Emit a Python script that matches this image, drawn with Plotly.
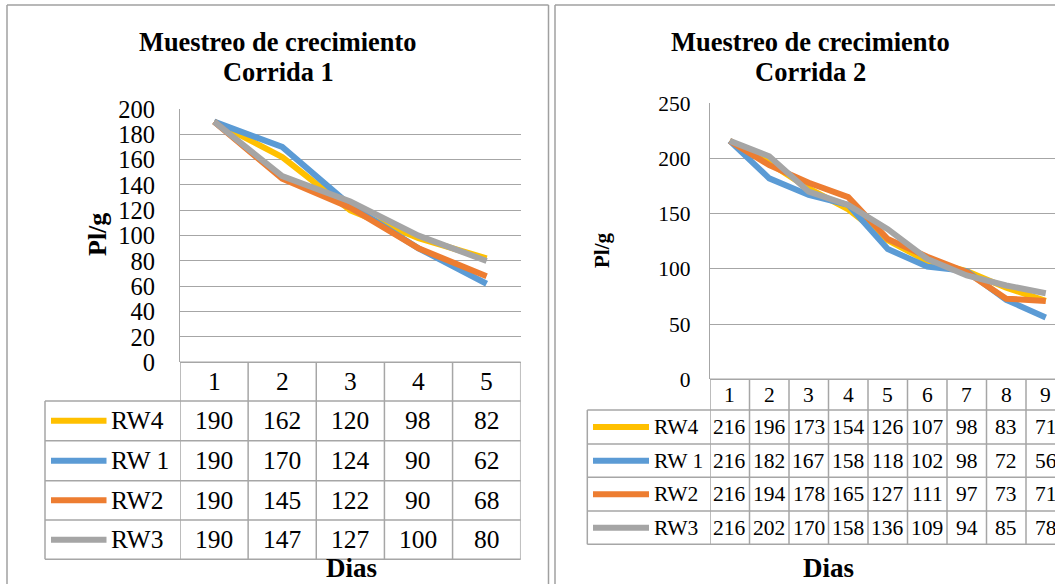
import plotly.graph_objects as go

# ---------------- data ----------------
series_names = ["RW4", "RW 1", "RW2", "RW3"]
series_colors = ["#FFC000", "#5B9BD5", "#ED7D31", "#A5A5A5"]

dias_c1 = [1, 2, 3, 4, 5]
rw4_c1 = [190, 162, 120, 98, 82]
rw1_c1 = [190, 170, 124, 90, 62]
rw2_c1 = [190, 145, 122, 90, 68]
rw3_c1 = [190, 147, 127, 100, 80]

dias_c2 = [1, 2, 3, 4, 5, 6, 7, 8, 9]
rw4_c2 = [216, 196, 173, 154, 126, 107, 98, 83, 71]
rw1_c2 = [216, 182, 167, 158, 118, 102, 98, 72, 56]
rw2_c2 = [216, 194, 178, 165, 127, 111, 97, 73, 71]
rw3_c2 = [216, 202, 170, 158, 136, 109, 94, 85, 78]

title_c1 = ["Muestreo de crecimiento", "Corrida 1"]
title_c2 = ["Muestreo de crecimiento", "Corrida 2"]
y_title = "Pl/g"
x_title = "Dias"

# ---------------- layout helpers ----------------
W, H = 1055, 584
FONT = "Liberation Serif, Times New Roman, serif"
GRID = "#A6A6A6"
FRAME = "#A0A0A0"


def fx(p):
    return p / W


def fy(p):
    return 1 - p / H


fig = go.Figure()

charts = [
    dict(x=dias_c1, ys=[rw4_c1, rw1_c1, rw2_c1, rw3_c1], xa="x", ya="y",
         plot_l=180, plot_r=520.7, plot_t=109, plot_b=362.3,
         rows=[401, 440.7, 480.7, 520, 559.3], leg_l=45,
         sw=(51, 106.5), lab_x=109, fs=25.5, tfs=26.4, title=title_c1,
         title_x=278, title_y=(42, 72), ytitle=(97, 235), ytfs=26,
         xtitle=(351, 568), xtfs=27),
    dict(x=dias_c2, ys=[rw4_c2, rw1_c2, rw2_c2, rw3_c2], xa="x2", ya="y2",
         plot_l=710, plot_r=1055, plot_t=103.3, plot_b=379.3,
         rows=[410, 444, 477.3, 511, 544.3], leg_l=587.3,
         sw=(593, 649), lab_x=652, fs=21.5, tfs=26.5, title=title_c2,
         title_x=810, title_y=(42, 72), ytitle=(602, 251), ytfs=21,
         xtitle=(828, 568), xtfs=27),
]

shapes = []
annotations = []

# outer frames of the two chart objects (open at the bottom / right, as cropped)
for x0, x1 in [(7, 548.5), (555, None)]:
    shapes.append(dict(type="line", xref="paper", yref="paper",
                       x0=fx(x0), x1=fx(x0), y0=0, y1=fy(5),
                       line=dict(color=FRAME, width=1.5)))
    shapes.append(dict(type="line", xref="paper", yref="paper",
                       x0=fx(x0), x1=fx(x1) if x1 else 1, y0=fy(5), y1=fy(5),
                       line=dict(color=FRAME, width=1.5)))
    if x1:
        shapes.append(dict(type="line", xref="paper", yref="paper",
                           x0=fx(x1), x1=fx(x1), y0=0, y1=fy(5),
                           line=dict(color=FRAME, width=1.5)))

for c in charts:
    # data lines
    for name, col, yv in zip(series_names, series_colors, c["ys"]):
        fig.add_trace(go.Scatter(x=c["x"], y=yv, mode="lines", name=name,
                                 xaxis=c["xa"], yaxis=c["ya"],
                                 line=dict(color=col, width=6),
                                 showlegend=False, hoverinfo="skip"))

    n = len(c["x"])
    hdr_t = c["plot_b"]
    rows = c["rows"]
    right = fx(c["plot_r"])
    # table horizontal lines
    shapes.append(dict(type="line", xref="paper", yref="paper",
                       x0=fx(c["plot_l"]), x1=right, y0=fy(hdr_t), y1=fy(hdr_t),
                       line=dict(color=GRID, width=1.5)))
    for r in rows:
        shapes.append(dict(type="line", xref="paper", yref="paper",
                           x0=fx(c["leg_l"]), x1=right, y0=fy(r), y1=fy(r),
                           line=dict(color=GRID, width=1.5)))
    # table vertical lines (column boundaries from the category axis)
    for k in range(n):
        shapes.append(dict(type="line", xref=c["xa"], yref="paper",
                           x0=k + 0.5, x1=k + 0.5, y0=fy(hdr_t), y1=fy(rows[-1]),
                           line=dict(color=GRID, width=1.5)))
    if c["xa"] == "x":
        shapes.append(dict(type="line", xref=c["xa"], yref="paper",
                           x0=n + 0.5, x1=n + 0.5, y0=fy(hdr_t), y1=fy(rows[-1]),
                           line=dict(color=GRID, width=1.5)))
    shapes.append(dict(type="line", xref="paper", yref="paper",
                       x0=fx(c["leg_l"]), x1=fx(c["leg_l"]), y0=fy(rows[0]), y1=fy(rows[-1]),
                       line=dict(color=GRID, width=1.5)))

    # header labels (categories)
    for d in c["x"]:
        annotations.append(dict(text=str(d), x=d, xref=c["xa"], xanchor="center",
                                y=fy((hdr_t + rows[0]) / 2), yref="paper",
                                yanchor="middle", showarrow=False,
                                font=dict(family=FONT, size=c["fs"], color="black")))
    # data rows with legend keys
    for i, (name, col, yv) in enumerate(zip(series_names, series_colors, c["ys"])):
        yc = (rows[i] + rows[i + 1]) / 2
        shapes.append(dict(type="line", xref="paper", yref="paper",
                           x0=fx(c["sw"][0]), x1=fx(c["sw"][1]), y0=fy(yc), y1=fy(yc),
                           line=dict(color=col, width=6)))
        annotations.append(dict(text=name, x=fx(c["lab_x"]), xref="paper",
                                xanchor="left", y=fy(yc), yref="paper",
                                yanchor="middle", showarrow=False,
                                font=dict(family=FONT, size=c["fs"], color="black")))
        for d, v in zip(c["x"], yv):
            annotations.append(dict(text=str(v), x=d, xref=c["xa"], xanchor="center",
                                    y=fy(yc), yref="paper", yanchor="middle",
                                    showarrow=False,
                                    font=dict(family=FONT, size=c["fs"], color="black")))

    # titles
    for t, ty in zip(c["title"], c["title_y"]):
        annotations.append(dict(text="<b>%s</b>" % t, x=fx(c["title_x"]), xref="paper",
                                xanchor="center", y=fy(ty), yref="paper", yanchor="middle",
                                showarrow=False,
                                font=dict(family=FONT, size=c["tfs"], color="black")))
    annotations.append(dict(text="<b>%s</b>" % y_title, x=fx(c["ytitle"][0]), xref="paper",
                            xanchor="center", y=fy(c["ytitle"][1]), yref="paper",
                            yanchor="middle", textangle=-90, showarrow=False,
                            font=dict(family=FONT, size=c["ytfs"], color="black")))
    annotations.append(dict(text="<b>%s</b>" % x_title, x=fx(c["xtitle"][0]), xref="paper",
                            xanchor="center", y=fy(c["xtitle"][1]), yref="paper",
                            yanchor="middle", showarrow=False,
                            font=dict(family=FONT, size=c["xtfs"], color="black")))

common_x = dict(showticklabels=False, showgrid=False, zeroline=False,
                showline=False, ticks="", fixedrange=True, automargin=False)
common_y = dict(showgrid=True, gridcolor=GRID, gridwidth=1.3, zeroline=True,
                zerolinecolor=GRID, zerolinewidth=1.3, showline=True,
                linecolor=GRID, linewidth=1.3, ticks="", fixedrange=True,
                automargin=False)

fig.update_layout(
    template="none",
    width=W, height=H, autosize=False,
    margin=dict(l=0, r=0, t=0, b=0, pad=0, autoexpand=False),
    paper_bgcolor="white", plot_bgcolor="white",
    showlegend=False,
    xaxis=dict(common_x, domain=[fx(180), fx(520.7)], range=[0.5, 5.5], anchor="y"),
    yaxis=dict(common_y, domain=[fy(362.3), fy(109)], range=[0, 200], dtick=20,
               tick0=0, anchor="x", ticklabelstandoff=19,
               tickfont=dict(family=FONT, size=24.5, color="black")),
    xaxis2=dict(common_x, domain=[fx(710), 1.0],
                range=[0.5, 0.5 + (W - 710) / 39.5], anchor="y2"),
    yaxis2=dict(common_y, domain=[fy(379.3), fy(103.3)], range=[0, 250], dtick=50,
                tick0=0, anchor="x2", ticklabelstandoff=14,
                tickfont=dict(family=FONT, size=21.5, color="black")),
    shapes=shapes,
    annotations=annotations,
)

fig.write_html("out.html")
